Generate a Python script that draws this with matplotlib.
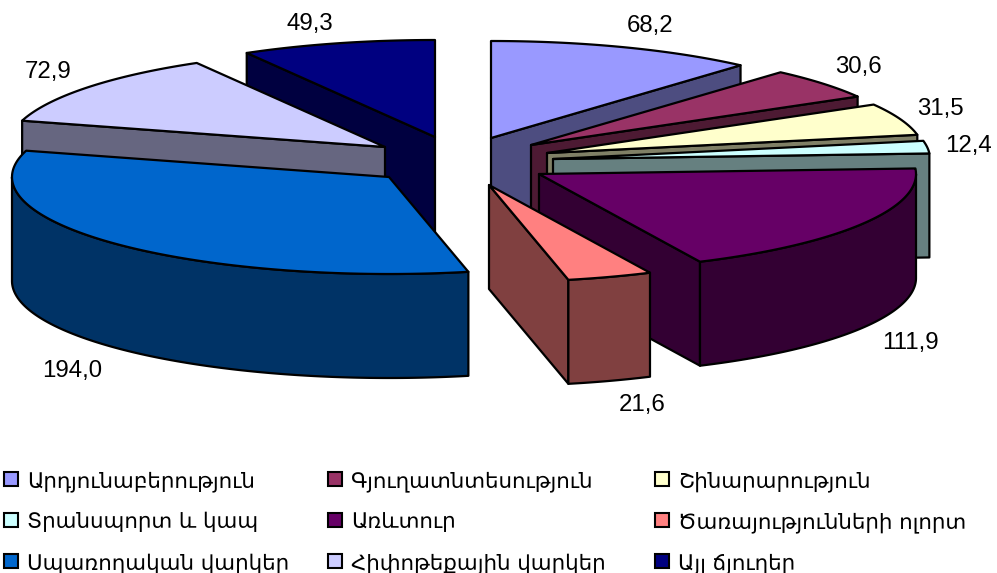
import numpy as np
import matplotlib
matplotlib.use("Agg")
import matplotlib.pyplot as plt
from matplotlib.patches import Polygon, Rectangle

categories = ["Արդյունաբերություն", "Գյուղատնտեսություն", "Շինարարություն",
              "Տրանսպորտ և կապ", "Առևտուր", "Ծառայությունների ոլորտ",
              "Սպառողական վարկեր", "Հիփոթեքային վարկեր", "Այլ ճյուղեր"]
values = [68.2, 30.6, 31.5, 12.4, 111.9, 21.6, 194.0, 72.9, 49.3]
colors = ["#9999FF", "#993366", "#FFFFCC", "#CCFFFF", "#660066", "#FF8080",
          "#0066CC", "#CCCCFF", "#000080"]

# layout of the exploded 3-D pie (pixel space of the figure)
RX, RY, DEPTH = 377, 97, 104
apex = [(491, 138), (531, 145), (547, 153), (553, 159), (539, 174), (489, 185),
        (389, 177), (385, 147), (435, 137)]
draw_order = [8, 7, 6, 0, 1, 2, 3, 4, 5]
label_pos = [(650, 26), (858, 67), (940, 109), (968, 146), (910, 343),
             (642, 405), (72, 371), (48, 72), (310, 24)]
LW = 1.6

W, H = 997, 573
fig = plt.figure(figsize=(W / 100, H / 100), dpi=100)
ax = fig.add_axes([0, 0, 1, 1])
ax.set_xlim(0, W)
ax.set_ylim(H, 0)
ax.axis("off")

edges = np.concatenate([[0], np.cumsum(values)]) / sum(values) * 2 * np.pi


def rim(center, a0, a1, dy=0.0):
    t = np.linspace(a0, a1, max(2, int(np.degrees(a1 - a0)) * 2))
    return np.column_stack([center[0] + RX * np.sin(t),
                            center[1] - RY * np.cos(t) + dy])


def face(pts, color, z):
    ax.add_patch(Polygon(pts, closed=True, facecolor=color, edgecolor="black",
                         linewidth=LW, joinstyle="round", zorder=z))


def darker(c):
    return tuple(0.5 * v for v in matplotlib.colors.to_rgb(c))


z = 1
for i in draw_order:
    a0, a1, c = edges[i], edges[i + 1], apex[i]
    side = darker(colors[i])
    p0 = rim(c, a0, a0)[0]
    p1 = rim(c, a1, a1)[0]
    down = np.array([0, DEPTH])
    # cut faces turned towards the viewer
    if 0 < a1 < np.pi:
        face([c, p1, p1 + down, np.array(c) + down], side, z); z += 1
    if np.pi < a0 < 2 * np.pi:
        face([c, p0, p0 + down, np.array(c) + down], side, z); z += 1
    # outer wall, front half only
    lo, hi = max(a0, np.pi / 2), min(a1, 3 * np.pi / 2)
    if hi > lo:
        top = rim(c, lo, hi)
        bottom = rim(c, lo, hi, DEPTH)[::-1]
        face(np.vstack([top, bottom]), side, z); z += 1
    # top surface
    face(np.vstack([[c], rim(c, a0, a1)]), colors[i], z); z += 1

for v, (x, y) in zip(values, label_pos):
    ax.text(x, y, f"{v:.1f}".replace(".", ","), ha="center", va="center",
            family="Liberation Sans", fontsize=17.3, color="black", zorder=100)

# legend, row by row
col_x = [4, 328, 655]
row_y = [479, 520, 561]
for i, (name, col) in enumerate(zip(categories, colors)):
    x, y = col_x[i % 3], row_y[i // 3]
    ax.add_patch(Rectangle((x, y - 7), 14, 14, facecolor=col, edgecolor="black",
                           linewidth=1.5, zorder=100))
    ax.text(x + 23, y, name, ha="left", va="center_baseline",
            family="DejaVu Sans", fontsize=15.4, color="black", zorder=100)

fig.savefig("out.png", dpi=100)
